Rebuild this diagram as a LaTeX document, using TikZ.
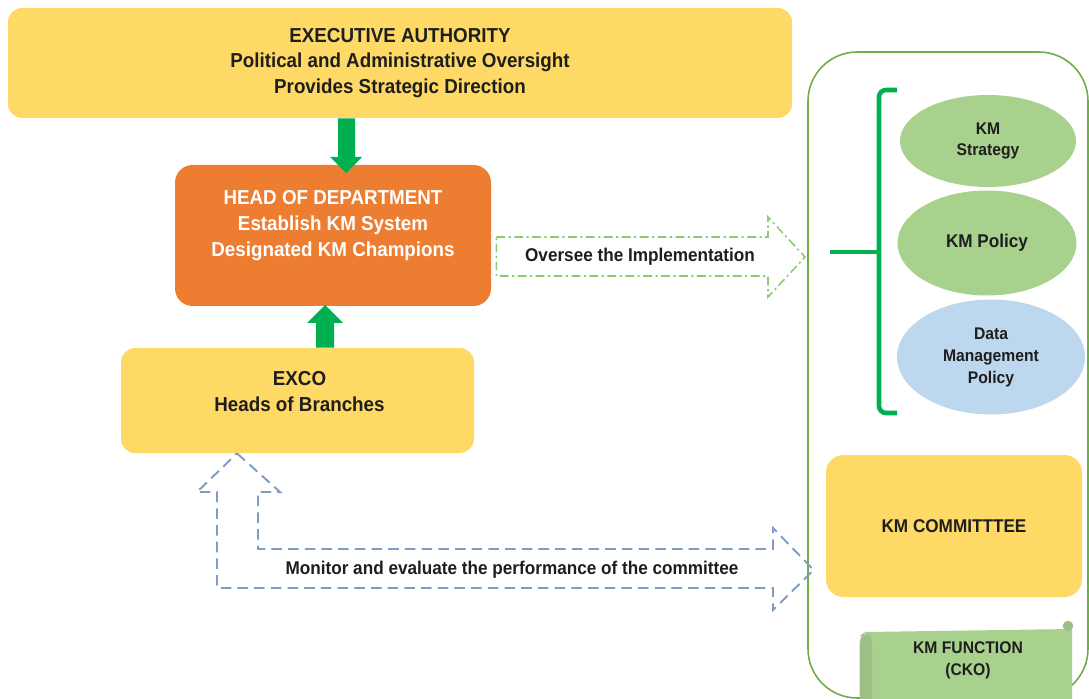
\documentclass[tikz,border=0pt]{standalone}
\usepackage{fontspec}
\setmainfont[FakeStretch=0.93]{Liberation Sans}
\usetikzlibrary{calc,shapes.geometric}
\definecolor{boxyellow}{HTML}{FFD966}
\definecolor{hodorange}{HTML}{ED7D31}
\definecolor{arrowgreen}{HTML}{00B050}
\definecolor{ellgreen}{HTML}{A9D18E}
\definecolor{ellblue}{HTML}{BDD7EE}
\definecolor{framegreen}{HTML}{70AD47}
\definecolor{dashgreen}{HTML}{8CCB6E}
\definecolor{dashblue}{HTML}{7F9DC2}
\definecolor{txt}{HTML}{1E1E1E}
\newcommand\pxl{0.02cm}
\begin{document}
\begin{tikzpicture}[x=0.02cm,y=-0.02cm,
  bigfont/.style={font=\bfseries\fontsize{11.5}{14.7}\selectfont},
  midfont/.style={font=\bfseries\fontsize{10.5}{13}\selectfont},
  smallfont/.style={font=\bfseries\fontsize{9.6}{12.5}\selectfont},
  ybox/.style={fill=boxyellow, draw=none, inner sep=0pt},
  ell/.style={ellipse, draw=none, inner sep=0pt, text=txt, align=center, smallfont},
  blockarrow/.style={fill=arrowgreen, draw=none}
]
\useasboundingbox (0,0) rectangle (1089,699);

% right frame
\draw[framegreen, line width=0.9pt, rounded corners=28pt] (808,52) rectangle (1088,698);

% top box
\node[ybox, rounded corners=8pt, minimum width=784*\pxl, minimum height=110*\pxl,
      bigfont, text=txt, align=center] (ea) at (400,63)
  {EXECUTIVE AUTHORITY\\Political and Administrative Oversight\\Provides Strategic Direction};

% head of department
\node[fill=hodorange, rounded corners=10pt, inner sep=0pt,
      minimum width=316*\pxl, minimum height=141*\pxl] (hod) at (333,235.5) {};
\node[bigfont, text=white, align=center, inner sep=0pt] (hodt) at ($(hod.center)+(0,-10)$)
  {HEAD OF DEPARTMENT\\Establish KM System\\Designated KM Champions};

% exco
\node[ybox, rounded corners=8pt, minimum width=353*\pxl, minimum height=105*\pxl] (exco) at (297.5,400.5) {};
\node[bigfont, text=txt, align=center, inner sep=0pt] (excot) at ($(exco.center)+(2,-9)$)
  {EXCO\\Heads of Branches};

% green block arrows
\path[blockarrow] (ea.south -| 338,0) -- (338,157) -- (330,157) -- (346,173) -- (362,157) -- (355,157) -- (ea.south -| 355,0) -- cycle;
\path[blockarrow] (exco.north -| 316,0) -- (316,323) -- (307,323) -- (325,305) -- (343,323) -- (334,323) -- (exco.north -| 334,0) -- cycle;

% dash-dot arrow to the KM documents
\coordinate (ddstart) at ($(hod.east |- 0,237)+(5,0)$);
\coordinate (ddtip) at (805,257);
\draw[dashgreen, line width=0.9pt, dash pattern=on 5pt off 2pt on 1.2pt off 2pt]
  (ddstart) -- (768,237) -- (768,217) -- (ddtip) -- (768,297) -- (768,276) -- (ddstart |- 0,276) -- cycle;
\node[midfont, text=txt, inner sep=0pt] (oversee) at (640,257) {Oversee the Implementation};

% bracket
\draw[arrowgreen, line width=2.6pt, rounded corners=4pt] (897,90) -- (879,90) -- (879,413) -- (897,413);
\draw[arrowgreen, line width=2.6pt] (830,252) -- (879,252);

% ellipses
\node[ell, fill=ellgreen, minimum width=176*\pxl, minimum height=92*\pxl] (strat) at (988,141) {KM\\Strategy};
\node[ell, fill=ellgreen, minimum width=179*\pxl, minimum height=105*\pxl, font=\bfseries\fontsize{10.5}{13}\selectfont] (pol) at (987,243) {KM Policy};
\node[ell, fill=ellblue, minimum width=188*\pxl, minimum height=115*\pxl] (dmp) at (991,357) {Data\\Management\\Policy};

% KM committee
\node[ybox, rounded corners=10pt, minimum width=256*\pxl, minimum height=142*\pxl,
      midfont, text=txt] (kmc) at (954,526) {KM COMMITTTEE};

% blue dashed L-arrow
\coordinate (bltip) at ($(kmc.west |- 0,570)+(-12,0)$);
\coordinate (upTip) at (exco.south -| 237,0);
\draw[dashblue, line width=1.1pt, dash pattern=on 6pt off 3.5pt, line join=miter]
  (upTip) -- (280,492) -- (258,492) -- (258,549) -- (773,549) -- (773,528)
  -- (bltip) -- (773,610) -- (773,588) -- (217,588) -- (217,492) -- (197,492) -- cycle;
\node[midfont, text=txt, inner sep=0pt] (monitor) at (512,570) {Monitor and evaluate the performance of the committee};

% KM function scroll
\fill[ellgreen] (866,632) -- (1072,629) -- (1072,700) -- (866,700) -- cycle;
\draw[ellgreen!70!black!60, line width=0.4pt, fill=ellgreen!92!black, rounded corners=4pt] (860,700) -- (860,636) -- (866,632) -- (872,636) -- (872,700);
\draw[ellgreen!70!black!60, line width=0.4pt, fill=ellgreen!92!black] (1068,626) circle (5);
\node[smallfont, text=txt, align=center, inner sep=0pt] (kmf) at (968,660) {KM FUNCTION\\(CKO)};
\end{tikzpicture}
\end{document}
